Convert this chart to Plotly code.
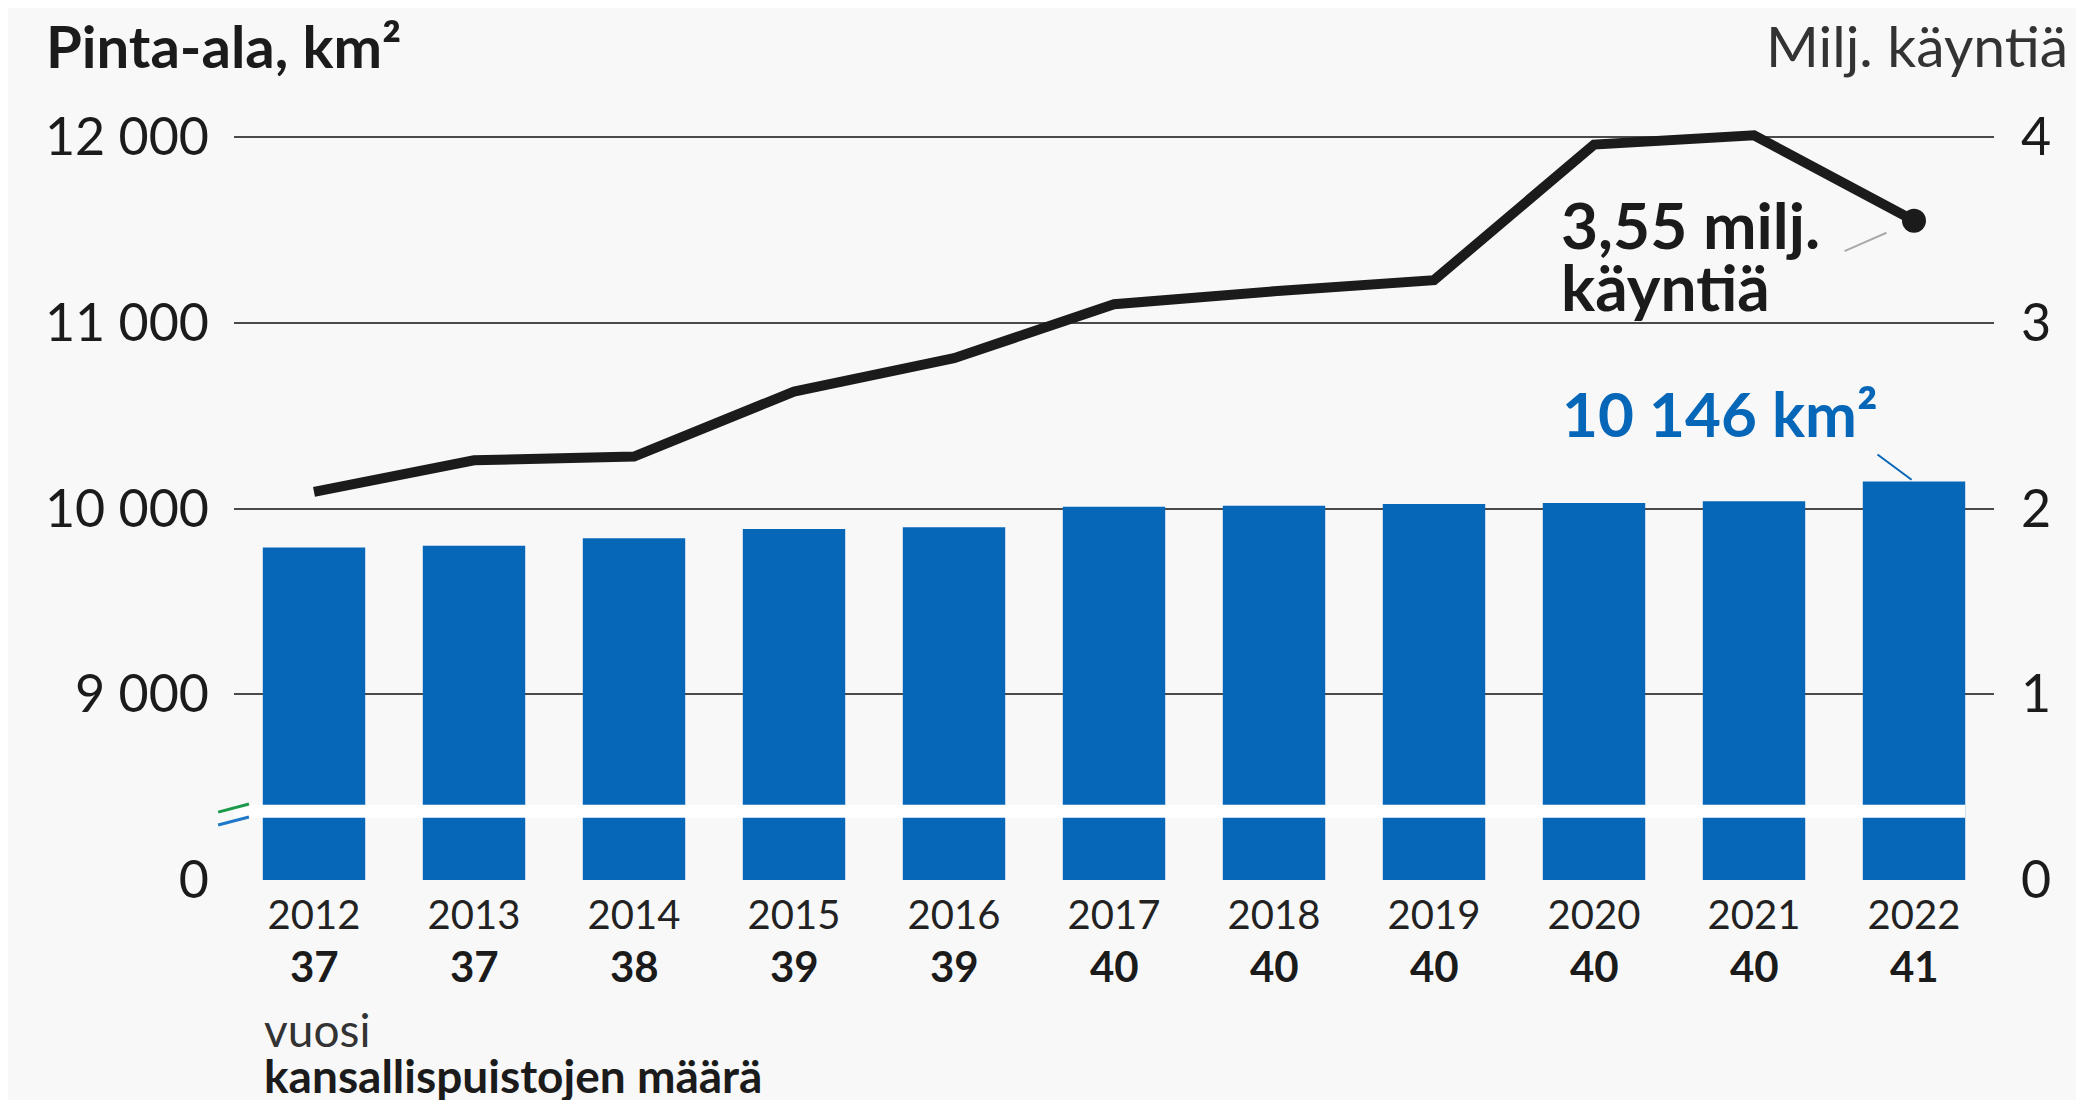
import plotly.graph_objects as go

years = ["2012", "2013", "2014", "2015", "2016", "2017", "2018", "2019", "2020", "2021", "2022"]
park_counts = ["37", "37", "38", "39", "39", "40", "40", "40", "40", "40", "41"]
area_km2 = [9790, 9800, 9840, 9890, 9900, 10010, 10015, 10025, 10030, 10040, 10146]
visits_mil = [2.09, 2.26, 2.28, 2.63, 2.81, 3.10, 3.17, 3.23, 3.96, 4.01, 3.55]

left_tickvals = [8000, 9000, 10000, 11000, 12000]
left_ticktext = ["0", "9 000", "10 000", "11 000", "12 000"]
right_tickvals = [0, 1, 2, 3, 4]
right_ticktext = ["0", "1", "2", "3", "4"]

BLUE = "#0666b8"
DARK = "#1b1b1b"
BG = "#f8f8f8"
FONT = "Lato"

n = len(years)
xi = list(range(n))

fig = go.Figure()
fig.add_trace(go.Bar(x=xi, y=area_km2, marker=dict(color=BLUE, line=dict(width=0)),
                     width=0.64, yaxis="y", hoverinfo="skip"))
fig.add_trace(go.Scatter(x=xi, y=visits_mil, yaxis="y2", mode="lines+markers",
                         line=dict(color=DARK, width=10),
                         marker=dict(size=[0] * (n - 1) + [24], color=DARK, opacity=1,
                                     line=dict(width=0)),
                         cliponaxis=False, hoverinfo="skip"))

fig.update_layout(
    width=2084, height=1100,
    paper_bgcolor=BG, plot_bgcolor=BG,
    margin=dict(l=226, r=98, t=92, b=228, autoexpand=False),
    showlegend=False,
    font=dict(family=FONT, color=DARK, size=46),
    xaxis=dict(type="linear", tickvals=xi, ticktext=years, showgrid=False, zeroline=False,
               showline=False, ticks="", range=[-0.5, 10.5],
               tickfont=dict(size=40, color="#222", family=FONT), ticklabelstandoff=8),
    yaxis=dict(range=[8000, 12200], tickvals=left_tickvals, ticktext=left_ticktext,
               showgrid=True, gridcolor="#4a4a4a", gridwidth=2, zeroline=False,
               showline=False, ticks="", ticklabelstandoff=24, automargin=False,
               tickfont=dict(size=52, color=DARK, family=FONT)),
    yaxis2=dict(range=[0, 4.2], overlaying="y", side="right", tickvals=right_tickvals,
                ticktext=right_ticktext, showgrid=False, zeroline=False, showline=False,
                ticks="", ticklabelstandoff=26, automargin=False,
                tickfont=dict(size=52, color=DARK, family=FONT)),
)

# axis break band and marks
fig.add_shape(type="rect", xref="x", yref="y", x0=-0.5, x1=10.32, y0=8335, y1=8405,
              fillcolor="white", line=dict(width=0), layer="above")
fig.add_shape(type="line", xref="paper", yref="paper", x0=-0.009, x1=0.0085, y0=0.087, y1=0.0974,
              line=dict(color="#1a9a4a", width=3))
fig.add_shape(type="line", xref="paper", yref="paper", x0=-0.009, x1=0.0085, y0=0.0705, y1=0.0808,
              line=dict(color="#1f78c8", width=3))

# park counts under the years
for i, c in zip(xi, park_counts):
    fig.add_annotation(x=i, xref="x", y=0, yref="paper", text="<b>" + c + "</b>",
                       showarrow=False, yanchor="middle", yshift=-86,
                       font=dict(size=42, color=DARK, family=FONT))

# axis titles
fig.add_annotation(xref="paper", yref="paper", x=-0.108, y=1.07, xanchor="left", yanchor="middle",
                   text="<b>Pinta-ala, km²</b>", showarrow=False,
                   font=dict(size=58, color=DARK, family=FONT))
fig.add_annotation(xref="paper", yref="paper", x=1.043, y=1.07, xanchor="right", yanchor="middle",
                   text="Milj. käyntiä", showarrow=False,
                   font=dict(size=57, color="#333", family=FONT))
fig.add_annotation(xref="paper", yref="paper", x=0.016, y=-0.192, xanchor="left", yanchor="middle",
                   text="vuosi", showarrow=False, font=dict(size=46, color="#333", family=FONT))
fig.add_annotation(xref="paper", yref="paper", x=0.016, y=-0.251, xanchor="left", yanchor="middle",
                   text="<b>kansallispuistojen määrä</b>", showarrow=False,
                   font=dict(size=46, color=DARK, family=FONT))

# value callouts
last = n - 1
fig.add_annotation(x=last, y=area_km2[last], xref="x", yref="y", text="",
                   showarrow=True, arrowhead=0, arrowwidth=2, arrowcolor=BLUE,
                   ax=-38, ay=-28, standoff=3)
fig.add_annotation(x=last, y=area_km2[last], xref="x", yref="y",
                   text="<b>10 146 km²</b>", showarrow=False, xanchor="right", yanchor="middle",
                   xshift=-34, yshift=68, font=dict(size=62, color=BLUE, family=FONT))
fig.add_annotation(x=last, y=visits_mil[last], xref="x", yref="y2", text="",
                   showarrow=True, arrowhead=0, arrowwidth=2, arrowcolor="#aaaaaa",
                   ax=-71, ay=31, standoff=30)
fig.add_annotation(x=last, y=visits_mil[last], xref="x", yref="y2",
                   text="<b>3,55 milj.</b>", showarrow=False, align="left",
                   xanchor="left", yanchor="middle", xshift=-355, yshift=-4,
                   font=dict(size=64, color=DARK, family=FONT))
fig.add_annotation(x=last, y=visits_mil[last], xref="x", yref="y2",
                   text="<b>käyntiä</b>", showarrow=False, align="left",
                   xanchor="left", yanchor="middle", xshift=-355, yshift=-66,
                   font=dict(size=64, color=DARK, family=FONT))

fig.write_html("out.html")
